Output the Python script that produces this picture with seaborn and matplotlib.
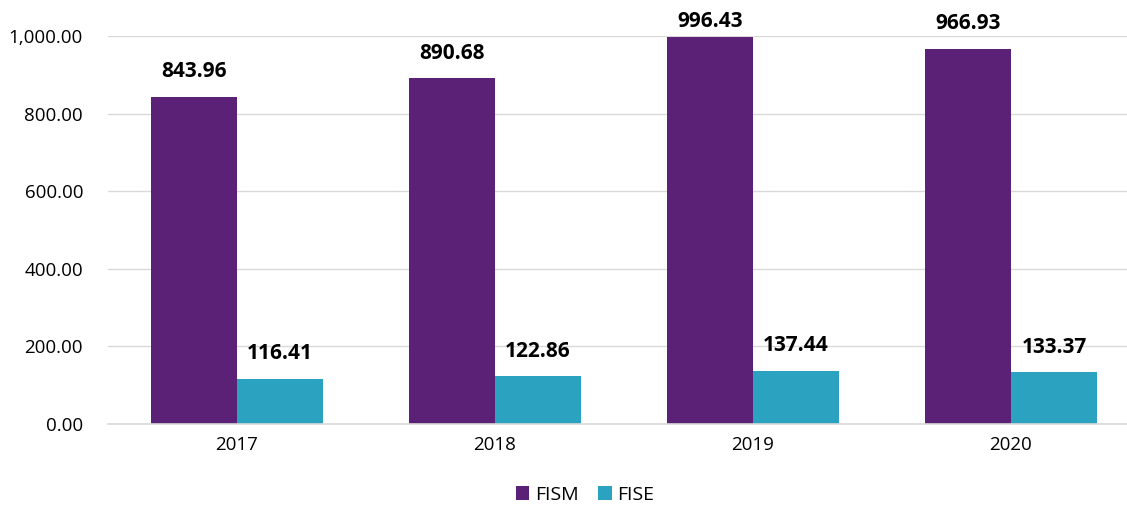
import matplotlib
matplotlib.use("Agg")
import matplotlib.pyplot as plt
import seaborn as sns
import pandas as pd
from matplotlib.ticker import FuncFormatter

years = ["2017", "2018", "2019", "2020"]
fism = [843.96, 890.68, 996.43, 966.93]
fise = [116.41, 122.86, 137.44, 133.37]
series_names = ["FISM", "FISE"]
colors = ["#5B2176", "#2BA3C0"]

df = pd.DataFrame({
    "year": years * 2,
    "value": fism + fise,
    "series": [series_names[0]] * 4 + [series_names[1]] * 4,
})

sns.set_style("white")
plt.rcParams['font.family'] = ['Open Sans', 'DejaVu Sans']
plt.rcParams['text.color'] = 'black'

fig = plt.figure(figsize=(11.27, 5.07), dpi=100)
ax_h_px = 388
ax = fig.add_axes([108/1127, 83/507, (1140-108)/1127, ax_h_px/507])

sns.barplot(data=df, x="year", y="value", hue="series", palette=colors,
            width=0.667, ax=ax, saturation=1, legend=True, linewidth=0)

ymax = 1000
ax.set_ylim(0, ymax)
ax.set_xlim(-0.5, 3.5)
ax.set_yticks([0, 200, 400, 600, 800, 1000])
ax.yaxis.set_major_formatter(FuncFormatter(lambda v, p: f"{v:,.2f}"))
ax.grid(axis="y", color="#D9D9D9", linewidth=1)
ax.set_axisbelow(True)
for s in ["left", "right", "top"]:
    ax.spines[s].set_visible(False)
ax.spines["bottom"].set_color("#D9D9D9")
ax.spines["bottom"].set_linewidth(1.2)
ax.tick_params(axis="both", length=0, labelsize=13.5, colors="#000000")
ax.tick_params(axis="y", pad=18)
ax.tick_params(axis="x", pad=9)
ax.set_xlabel("")
ax.set_ylabel("")

px_per_pt = 100 / 72
for container in ax.containers:
    for bar in container:
        h = bar.get_height()
        room_px = (ymax - h) * ax_h_px / ymax + 14
        off_pt = min(18, room_px / px_per_pt)
        ax.annotate(f"{h:,.2f}", (bar.get_x() + bar.get_width()/2, h),
                    xytext=(0, off_pt), textcoords="offset points",
                    ha="center", va="center", fontsize=15, fontweight="bold",
                    color="black", clip_on=False)

handles, labels = ax.get_legend_handles_labels()
ax.legend(handles, labels, loc="center", bbox_to_anchor=(585/1127, 12/507),
          bbox_transform=fig.transFigure, ncol=2, frameon=False,
          fontsize=14, handlelength=0.7, handleheight=0.7, columnspacing=1.0,
          handletextpad=0.3, labelcolor="black")

fig.savefig("out.png", dpi=100)
